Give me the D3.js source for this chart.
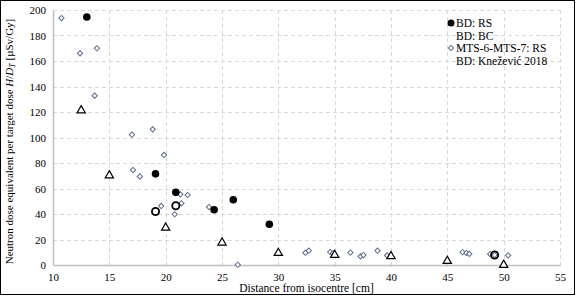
<!DOCTYPE html>
<html>
<head>
<meta charset="utf-8">
<script src="https://cdn.jsdelivr.net/npm/d3@7"></script>
<style>
  body { margin: 0; background: #fff; }
  svg { display: block; font-family: "Liberation Serif", "Times New Roman", serif; }
</style>
</head>
<body>
<div id="chart"></div>
<script>
// BD: RS (filled circles)
const bdRs = [[13.0, 194.5], [19.1, 71.5], [20.9, 57], [24.3, 43.3], [26.0, 51.2], [29.2, 32]]
// BD: BC (open circles)
const bdBc = [[19.1, 42], [20.9, 46.5], [49.2, 7.8]]
// MTS-6-MTS-7: RS (diamonds)
const mts = [
  [10.75, 193.7], [12.4, 166], [13.9, 170], [13.7, 132.8], [17.0, 102.2], [18.85, 106.4],
  [19.85, 86.3], [17.1, 74.5], [17.7, 69.5], [21.3, 55.4], [21.95, 54.9], [21.4, 48.4],
  [19.6, 46.3], [20.8, 39.8], [23.85, 45.5], [26.4, 0.2], [32.4, 9.6], [32.7, 11.2],
  [34.6, 10.2], [34.85, 9.2], [36.4, 9.8], [37.3, 6.8], [37.55, 7.8], [38.8, 11.2],
  [39.65, 7.5], [46.35, 10], [46.7, 9.4], [46.95, 8.7], [48.8, 8.6], [49.2, 7.8], [50.4, 7.6]
]
// BD: Knežević 2018 (triangles)
const knezevic = [[12.5, 122], [15, 71], [20, 30], [25, 18.3], [30, 10.2], [35, 8.6], [40, 7.6], [45, 3.9], [50, 0.8]]

const xTicks = [10, 15, 20, 25, 30, 35, 40, 45, 50, 55]
const yTicks = [0, 20, 40, 60, 80, 100, 120, 140, 160, 180, 200]
const legendLabels = ['BD: RS', 'BD: BC', 'MTS-6-MTS-7: RS', 'BD: Knežević 2018']

const width = 576
const height = 297
const margin = { top: 10, right: 16, bottom: 32, left: 53 }
const aWidth = width - margin.left - margin.right
const aHeight = height - margin.top - margin.bottom

const x = d3.scaleLinear().domain([10, 55]).range([0, aWidth])
const y = d3.scaleLinear().domain([0, 200]).range([aHeight, 0])

const svg = d3.select('#chart').append('svg')
  .attr('width', width)
  .attr('height', height)

svg.append('rect')
  .attr('x', 0.5).attr('y', 0.5)
  .attr('width', width - 2).attr('height', height - 3)
  .attr('fill', '#fff').attr('stroke', '#000')

const g = svg.append('g').attr('transform', `translate(${margin.left},${margin.top})`)

// grid
g.selectAll('.hgrid').data(yTicks.filter(d => d > 0)).enter()
  .append('line')
  .attr('x1', 0).attr('x2', aWidth)
  .attr('y1', d => Math.round(y(d)) + 0.5).attr('y2', d => Math.round(y(d)) + 0.5)
  .attr('stroke', '#d9d9d9').attr('stroke-dasharray', '4,3')

g.selectAll('.vgrid').data(xTicks.filter(d => d > 10)).enter()
  .append('line')
  .attr('x1', d => Math.round(x(d)) + 0.5).attr('x2', d => Math.round(x(d)) + 0.5)
  .attr('y1', 0).attr('y2', aHeight)
  .attr('stroke', '#d9d9d9').attr('stroke-dasharray', '4,3')

// axes
const xAxis = g.append('g')
  .attr('transform', `translate(0,${aHeight})`)
  .call(d3.axisBottom(x).tickValues(xTicks).tickSize(0).tickPadding(8))
xAxis.select('.domain').attr('stroke', '#bfbfbf').attr('stroke-width', 1.5)

const yAxis = g.append('g')
  .call(d3.axisLeft(y).tickValues(yTicks).tickSize(0).tickPadding(7))
yAxis.select('.domain').attr('stroke', '#bfbfbf').attr('stroke-width', 1.5)

svg.selectAll('.tick text')
  .attr('font-family', '"Liberation Serif", serif')
  .attr('font-size', 11)
  .attr('fill', '#000')

// axis titles
svg.append('text')
  .attr('x', margin.left + aWidth / 2)
  .attr('y', 292)
  .attr('text-anchor', 'middle')
  .attr('font-size', 11.5)
  .text('Distance from isocentre [cm]')

const yTitle = svg.append('text')
  .attr('transform', `translate(13,${margin.top + aHeight / 2 + 4}) rotate(-90)`)
  .attr('text-anchor', 'middle')
  .attr('font-size', 11)
yTitle.append('tspan').text('Neutron dose equivalent per target dose ')
yTitle.append('tspan').attr('font-style', 'italic').text('H')
yTitle.append('tspan').text('/')
yTitle.append('tspan').attr('font-style', 'italic').text('D')
yTitle.append('tspan').attr('font-style', 'italic').attr('font-size', 8).attr('dy', 2).text('T')
yTitle.append('tspan').attr('dy', -2).text(' [µSv/Gy]')

// markers
const diamond = d3.symbol().type(d3.symbolSquare).size(14)
const triangle = d3.symbol().type(d3.symbolTriangle).size(30)

g.selectAll('.mts').data(mts).enter()
  .append('path')
  .attr('d', diamond)
  .attr('transform', d => `translate(${x(d[0])},${y(d[1])}) rotate(45)`)
  .attr('fill', '#fff').attr('stroke', '#5b6b8c').attr('stroke-width', 1)

g.selectAll('.knez').data(knezevic).enter()
  .append('path')
  .attr('d', triangle)
  .attr('transform', d => `translate(${x(d[0])},${y(d[1]) + 1})`)
  .attr('fill', '#fff').attr('stroke', '#000').attr('stroke-width', 1.2)

g.selectAll('.bdbc').data(bdBc).enter()
  .append('circle')
  .attr('cx', d => x(d[0])).attr('cy', d => y(d[1]))
  .attr('r', 3.6)
  .attr('fill', 'none').attr('stroke', '#000').attr('stroke-width', 1.8)

g.selectAll('.bdrs').data(bdRs).enter()
  .append('circle')
  .attr('cx', d => x(d[0])).attr('cy', d => y(d[1]))
  .attr('r', 3.8)
  .attr('fill', '#000')

// legend
const legend = svg.append('g').attr('transform', 'translate(451,23)')
legendLabels.forEach((label, i) => {
  const row = legend.append('g').attr('transform', `translate(0,${i * 12.5})`)
  if (i === 0) row.append('circle').attr('r', 3.5).attr('fill', '#000')
  if (i === 2) {
    row.append('path').attr('d', diamond).attr('transform', 'rotate(45)')
      .attr('fill', '#fff').attr('stroke', '#5b6b8c')
  }
  row.append('text')
    .attr('x', 5).attr('y', 4)
    .attr('font-size', 11.5)
    .text(label)
})
</script>
</body>
</html>
